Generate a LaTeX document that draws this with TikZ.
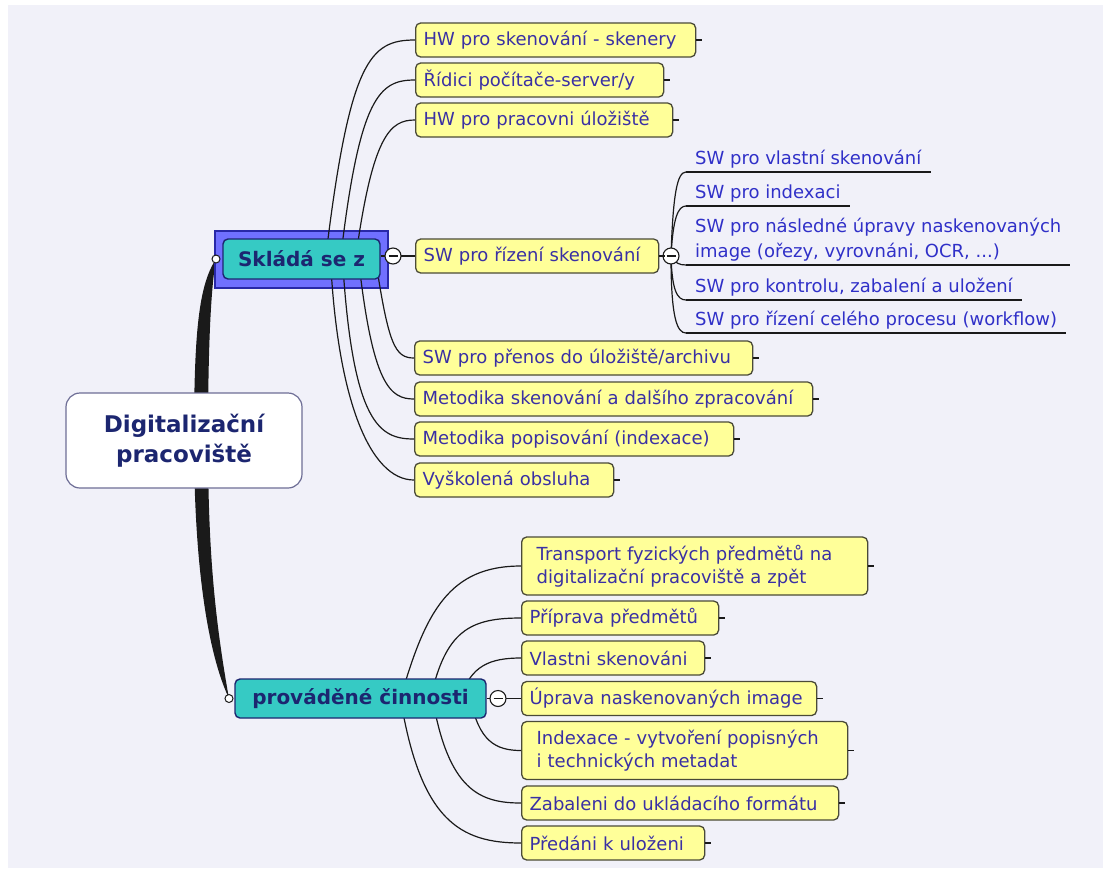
\documentclass[tikz,border=0pt]{standalone}
\usepackage{fontspec}
\setmainfont{DejaVu Sans}
\usetikzlibrary{calc}
\pgfdeclarelayer{back}
\pgfdeclarelayer{wires}
\pgfsetlayers{back,wires,main}

\definecolor{paper}{HTML}{F1F1F9}
\definecolor{leaffill}{HTML}{FFFF99}
\definecolor{leafedge}{HTML}{4A4A38}
\definecolor{leaftext}{HTML}{3A30A4}
\definecolor{subtext}{HTML}{3030C8}
\definecolor{navy}{HTML}{1C2670}
\definecolor{mmteal}{HTML}{36CAC4}
\definecolor{selblue}{HTML}{7070FF}
\definecolor{seledge}{HTML}{2828A8}
\definecolor{rootedge}{HTML}{6E6E96}
\definecolor{wirecol}{HTML}{1A1A1A}

\tikzset{
  wire/.style={draw=wirecol, line width=1.2pt},
  leaf/.style={draw=leafedge, line width=1.3pt, fill=leaffill, rounded corners=5pt,
    anchor=west, minimum height=34pt, inner xsep=8pt, inner ysep=0pt, align=left,
    text=leaftext, font=\fontsize{18}{23.5}\selectfont, text width=#1},
  leaf2/.style={leaf=#1, minimum height=58pt, inner xsep=15pt},
  subitem/.style={anchor=south west, inner xsep=9pt, inner ysep=3.5pt, align=left,
    text=subtext, font=\fontsize{18}{25}\selectfont},
  rootbox/.style={draw=rootedge, line width=1.2pt, fill=white, rounded corners=14pt,
    minimum width=236pt, minimum height=95pt, align=center, text=navy,
    font=\bfseries\fontsize{23}{30}\selectfont},
  topic/.style={draw=navy, line width=1.4pt, fill=mmteal, rounded corners=5pt,
    inner sep=0pt, text=navy, font=\bfseries\fontsize{20}{24}\selectfont},
  selframe/.style={draw=seledge, line width=1.1pt, fill=selblue, inner sep=0pt},
  dot/.style={circle, draw=wirecol, line width=1pt, fill=white, minimum size=8pt, inner sep=0pt},
  fold/.style={circle, draw=wirecol, line width=1.1pt, fill=white, minimum size=16pt, inner sep=0pt,
    path picture={\draw[line width=1.8pt, wirecol]
      ([xshift=-4.5pt]path picture bounding box.center) -- ([xshift=4.5pt]path picture bounding box.center);}},
}

\begin{document}
\begin{tikzpicture}[x=1pt,y=-1pt]
\useasboundingbox (0,0) rectangle (1103,868);

% main topics
\node[rootbox] (root) at (184,440.5) {Digitalizační\\pracoviště};
\node[topic, minimum width=157pt, minimum height=40pt] (sk) at (301.5,259) {Skládá se z};
\node[topic, minimum width=251pt, minimum height=39pt] (prov) at (360.5,698.5) {prováděné činnosti};

% attachment dots and fold buttons
\node[dot] (skdot) at (216,259) {};
\node[dot] (provdot) at (229,698.5) {};
\node[fold] (skfold) at (393,256) {};
\node[fold] (swfold) at (671,256) {};
\node[fold] (provfold) at (498,698.5) {};

% components
\node[leaf=264pt] (hw) at (415,40) {HW pro skenování - skenery};
\node[leaf=232pt] (pc) at (415,80) {Řídici počítače-server/y};
\node[leaf=241pt] (st) at (415,120) {HW pro pracovni úložiště};
\node[leaf=227pt] (sw) at (415,256) {SW pro řízení skenování};
\node[leaf=322pt] (tr) at (414,358) {SW pro přenos do úložiště/archivu};
\node[leaf=382pt] (me) at (414,399) {Metodika skenování a dalšího zpracování};
\node[leaf=303pt] (mp) at (414,439) {Metodika popisování (indexace)};
\node[leaf=183pt] (ob) at (414,480) {Vyškolená obsluha};

% software for scanning control
\node[subitem] (s1) at (686,172) {SW pro vlastní skenování};
\node[subitem] (s2) at (686,206) {SW pro indexaci};
\node[subitem] (s3) at (686,265) {SW pro následné úpravy naskenovaných\\image (ořezy, vyrovnáni, OCR, ...)};
\node[subitem] (s4) at (686,300) {SW pro kontrolu, zabalení a uložení};
\node[subitem] (s5) at (686,333) {SW pro řízení celého procesu (workflow)};

% activities
\node[leaf2=316pt] (p1) at (521,566) {Transport fyzických předmětů na\\digitalizační pracoviště a zpět};
\node[leaf=181pt] (p2) at (521,618) {Příprava předmětů};
\node[leaf=167pt] (p3) at (521,658) {Vlastni skenováni};
\node[leaf=279pt] (p4) at (521,698.5) {Úprava naskenovaných image};
\node[leaf2=296pt] (p5) at (521,750.5) {Indexace - vytvoření popisných\\i technických metadat};
\node[leaf=301pt] (p6) at (521,803) {Zabaleni do ukládacího formátu};
\node[leaf=167pt] (p7) at (521,843) {Předáni k uloženi};

% end stubs of the boxed topics
\foreach \n in {hw,pc,st,sw,tr,me,mp,ob,p1,p2,p3,p4,p5,p6,p7}
  \draw[wire] (\n.east) -- ++(6,0);

\begin{pgfonlayer}{back}
  \fill[white] (0,0) rectangle (1103,868);
  \fill[paper] (8,5) rectangle (1103,868);
  % tapered trunk from the central topic to both main branches
  \fill[wirecol] (skdot.center) .. controls (212,282) and (208,330) .. (208,440)
    .. controls (208,545) and (214,615) .. (provdot.center)
    .. controls (204,645) and (194,545) .. (194,440)
    .. controls (194,330) and (199,285) .. (skdot.center) -- cycle;
  \node[selframe, minimum width=173pt, minimum height=57pt] (skframe) at (301.5,259.5) {};
\end{pgfonlayer}

\begin{pgfonlayer}{wires}
  % branches of "Skládá se z"
  \draw[wire] ($(sk.center)+(24,0)$) .. controls +(24,-199) and +(-45,0) .. (hw.west);
  \draw[wire] ($(sk.center)+(39,0)$) .. controls +(19,-164) and +(-35,0) .. (pc.west);
  \draw[wire] ($(sk.center)+(54,0)$) .. controls +(17,-124) and +(-25,0) .. (st.west);
  \draw[wire] (sk.east |- sw.west) -- (sw.west);
  \draw[wire] ($(sk.center)+(74,0)$) .. controls +(13,86) and +(-19,0) .. (tr.west);
  \draw[wire] ($(sk.center)+(57,0)$) .. controls +(14,126) and +(-24,0) .. (me.west);
  \draw[wire] ($(sk.center)+(41,0)$) .. controls +(10,166) and +(-34,0) .. (mp.west);
  \draw[wire] ($(sk.center)+(29,0)$) .. controls +(7,141) and +(-44,0) .. (ob.west);
  % branches of "SW pro řízení skenování"
  \draw[wire] (sw.east) -- (swfold.center);
  \draw[wire] (swfold.center) .. controls +(2,-61) and +(-9,0) .. (s1.south west);
  \draw[wire] (swfold.center) .. controls +(2,-38) and +(-8,0) .. (s2.south west);
  \draw[wire] (swfold.center) .. controls +(4,7) and +(-7,0) .. (s3.south west);
  \draw[wire] (swfold.center) .. controls +(1,34) and +(-9,0) .. (s4.south west);
  \draw[wire] (swfold.center) .. controls +(0,62) and +(-9,0) .. (s5.south west);
  \foreach \n in {s1,s2,s3,s4,s5}
    \draw[wire] (\n.south west) -- (\n.south east);
  % branches of "prováděné činnosti"
  \draw[wire] ($(prov.center)+(40,0)$) .. controls +(25,-88) and +(-71,0) .. (p1.west);
  \draw[wire] ($(prov.center)+(70,0)$) .. controls +(15,-68) and +(-51,0) .. (p2.west);
  \draw[wire] ($(prov.center)+(100,0)$) .. controls +(10,-33) and +(-31,0) .. (p3.west);
  \draw[wire] (prov.east) -- (p4.west);
  \draw[wire] ($(prov.center)+(110,0)$) .. controls +(8,42) and +(-26,0) .. (p5.west);
  \draw[wire] ($(prov.center)+(72,0)$) .. controls +(16,92) and +(-41,0) .. (p6.west);
  \draw[wire] ($(prov.center)+(40,0)$) .. controls +(20,122) and +(-61,0) .. (p7.west);
\end{pgfonlayer}
\end{tikzpicture}
\end{document}
